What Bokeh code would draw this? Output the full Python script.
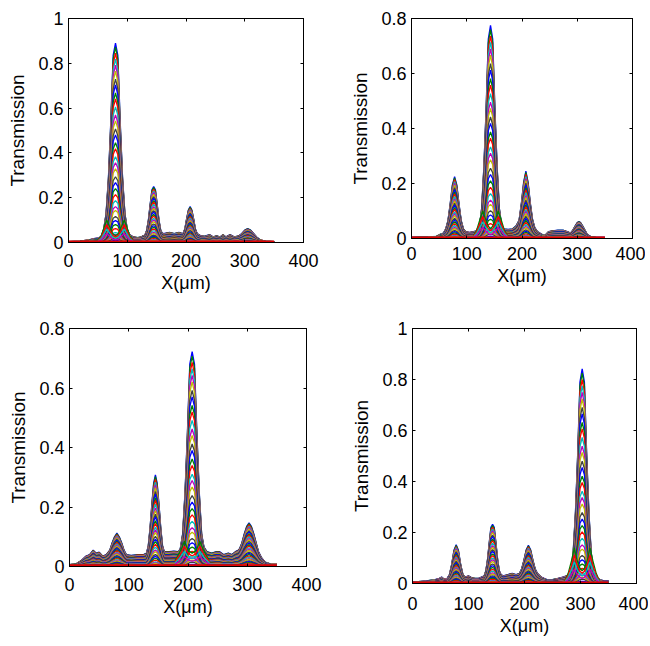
from bokeh.plotting import figure
from bokeh.models import LinearAxis, FixedTicker, Range1d, ColumnDataSource
from bokeh.layouts import column, row
from bokeh.embed import file_html
from bokeh.resources import INLINE

# ---------------- data ----------------
# upper envelope (largest curve) of each panel, x in um
tl_x = [0, 20, 35, 45, 52, 56, 60, 64, 68, 72, 76, 80, 84, 88, 92, 96, 100, 104, 110, 118, 124,
        127, 130, 133, 136, 139, 142, 145, 148, 151, 154, 157, 160, 165, 172, 180, 188, 194,
        195, 198, 201, 204, 207, 210, 213, 216, 219, 225, 232, 240, 246, 252, 258, 263, 268,
        275, 282, 290, 295, 300, 305, 310, 315, 320, 326, 335, 350]
tl_y = [0.004, 0.006, 0.012, 0.018, 0.02, 0.03, 0.06, 0.13, 0.29, 0.54, 0.835, 0.89, 0.835, 0.54,
        0.29, 0.13, 0.06, 0.035, 0.025, 0.022, 0.025,
        0.03, 0.033, 0.054, 0.10, 0.17, 0.235, 0.25, 0.235, 0.17, 0.10, 0.054, 0.04, 0.042,
        0.045, 0.04, 0.045, 0.04,
        0.04, 0.06, 0.105, 0.145, 0.16, 0.145, 0.105, 0.06, 0.04, 0.03, 0.028, 0.035, 0.025,
        0.03, 0.025, 0.035, 0.025, 0.035, 0.025, 0.03, 0.04, 0.055, 0.062, 0.055, 0.04, 0.025,
        0.012, 0.006, 0.004]

tr_x = [0, 30, 45, 52, 58, 62, 66, 70, 74, 78, 82, 86, 90, 94, 98, 105, 112, 118,
        119, 123, 127, 131, 135, 139, 143, 147, 151, 155, 159, 163, 167, 175, 183,
        189, 193, 195, 199, 203, 207, 211, 215, 219, 223, 228, 236, 242, 248, 255, 265,
        275, 282, 288, 292, 296, 300, 303, 306, 310, 314, 318, 325, 335, 350]
tr_y = [0.004, 0.006, 0.008, 0.015, 0.02, 0.035, 0.065, 0.125, 0.195, 0.225, 0.195, 0.125,
        0.065, 0.035, 0.025, 0.022, 0.025, 0.028,
        0.035, 0.045, 0.11, 0.26, 0.47, 0.725, 0.775, 0.725, 0.47, 0.26, 0.11, 0.05, 0.035,
        0.033, 0.035,
        0.045, 0.06, 0.07, 0.13, 0.205, 0.245, 0.205, 0.13, 0.07, 0.04, 0.025, 0.015, 0.012,
        0.025, 0.028, 0.03, 0.03, 0.025, 0.02, 0.03, 0.045, 0.058, 0.062, 0.058, 0.045, 0.03,
        0.015, 0.006, 0.004, 0.004]

bl_x = [0, 12, 20, 28, 34, 40, 45, 50, 56, 62, 64, 68, 72, 76, 80, 84, 88, 92, 96, 104, 115,
        125, 130, 133, 136, 139, 142, 145, 148, 151, 154, 157, 160, 168, 176, 184,
        187, 191, 195, 199, 203, 207, 211, 215, 219, 223, 227, 232, 240, 248, 253, 260, 268,
        274, 280, 285, 287, 291, 295, 299, 303, 307, 311, 315, 319, 324, 330, 340, 350]
bl_y = [0.006, 0.01, 0.02, 0.035, 0.04, 0.055, 0.045, 0.048, 0.035, 0.04, 0.045, 0.055, 0.08,
        0.1, 0.112, 0.1, 0.08, 0.055, 0.04, 0.037, 0.04,
        0.04, 0.045, 0.07, 0.13, 0.21, 0.28, 0.308, 0.28, 0.21, 0.13, 0.07, 0.05, 0.05, 0.052,
        0.05,
        0.06, 0.11, 0.25, 0.45, 0.68, 0.722, 0.68, 0.45, 0.25, 0.11, 0.065, 0.05, 0.045, 0.05,
        0.05, 0.04, 0.045, 0.04, 0.05, 0.055, 0.06, 0.08, 0.11, 0.135, 0.147, 0.135, 0.11,
        0.08, 0.05, 0.03, 0.015, 0.008, 0.008]

br_x = [0, 25, 40, 48, 52, 56, 62, 66, 70, 74, 78, 82, 86, 90, 94, 100, 106, 112, 118,
        128, 131, 134, 137, 140, 143, 146, 149, 152, 155, 158, 162, 170, 178, 185,
        191, 195, 199, 203, 207, 211, 215, 219, 223, 230, 240, 250, 260, 268, 275, 281,
        283, 287, 291, 295, 299, 303, 307, 311, 315, 319, 323, 328, 335, 342, 350]
br_y = [0.005, 0.01, 0.015, 0.02, 0.025, 0.018, 0.02, 0.035, 0.075, 0.13, 0.152, 0.13, 0.075,
        0.035, 0.025, 0.03, 0.022, 0.02, 0.02,
        0.03, 0.05, 0.095, 0.16, 0.22, 0.232, 0.22, 0.16, 0.095, 0.05, 0.035, 0.03, 0.035,
        0.04, 0.035,
        0.04, 0.058, 0.092, 0.132, 0.15, 0.132, 0.092, 0.058, 0.04, 0.025, 0.015, 0.015, 0.02,
        0.025, 0.03, 0.03,
        0.04, 0.125, 0.28, 0.51, 0.79, 0.842, 0.79, 0.51, 0.28, 0.125, 0.045, 0.025, 0.015,
        0.01, 0.01]

# split (two-lobed) low curves around each panel's main peak
tl_lobe_x = [50, 56, 61, 65, 70, 75, 80, 85, 90, 95, 99, 104, 110]
tl_lobe_y = [0.01, 0.03, 0.07, 0.10, 0.07, 0.04, 0.03, 0.04, 0.07, 0.10, 0.07, 0.03, 0.01]
tr_lobe_x = [112, 118, 124, 129, 134, 139, 143, 147, 152, 157, 162, 168, 174]
tr_lobe_y = [0.01, 0.03, 0.07, 0.10, 0.07, 0.045, 0.035, 0.045, 0.07, 0.10, 0.07, 0.03, 0.01]
bl_lobe_x = [178, 184, 189, 194, 199, 203, 207, 211, 215, 220, 225, 230, 236]
bl_lobe_y = [0.02, 0.04, 0.06, 0.085, 0.06, 0.05, 0.045, 0.05, 0.06, 0.085, 0.06, 0.04, 0.02]
br_lobe_x = [272, 278, 284, 289, 294, 299, 303, 307, 312, 317, 322, 328, 334]
br_lobe_y = [0.01, 0.04, 0.09, 0.14, 0.09, 0.06, 0.05, 0.06, 0.09, 0.14, 0.09, 0.04, 0.01]

# relative level of each curve of the family
levels = [1.0, 0.98, 0.95, 0.92, 0.89, 0.86, 0.82, 0.79, 0.75, 0.72, 0.68, 0.64, 0.61, 0.57,
          0.54, 0.50, 0.47, 0.43, 0.40, 0.37, 0.33, 0.30, 0.27, 0.24, 0.21, 0.18, 0.16, 0.13,
          0.11, 0.09, 0.07, 0.05, 0.04, 0.03, 0.02, 0.01]
lobe_levels = [1.0, 0.8, 0.6, 0.4]

baseline_x = [0, 350]
baseline_y = [0.003, 0.003]

x_ticks = [0, 100, 200, 300, 400]
x_tick_labels = ["0", "100", "200", "300", "400"]
y_ticks_1 = [0, 0.2, 0.4, 0.6, 0.8, 1]
y_tick_labels_1 = ["0", "0.2", "0.4", "0.6", "0.8", "1"]
y_ticks_08 = [0, 0.2, 0.4, 0.6, 0.8]
y_tick_labels_08 = ["0", "0.2", "0.4", "0.6", "0.8"]

COLORS = ["#0000ff", "#008000", "#ff0000", "#00bfbf", "#bf00bf", "#bfbf00", "#404040"]
FONT = "Liberation Sans"


def panel(ex, ey, lx, ly, ymax, yt, ytl, fw, fh, bl, br, bt, bb, xs_off, xl_off):
    p = figure(frame_width=fw, frame_height=fh, min_border_left=bl, min_border_right=br,
               min_border_top=bt, min_border_bottom=bb, output_backend="svg",
               toolbar_location=None, x_range=Range1d(0, 400), y_range=Range1d(0, ymax))
    p.xaxis.visible = False
    p.yaxis.visible = False
    p.grid.visible = False
    p.outline_line_color = "black"
    p.outline_line_width = 1
    p.background_fill_color = "white"

    xs, ys, cs = [], [], []
    k = 0
    for f in levels:
        xs.append(ex)
        ys.append([v * f for v in ey])
        cs.append(COLORS[k % len(COLORS)])
        k += 1
    for f in lobe_levels:
        xs.append(lx)
        ys.append([v * f for v in ly])
        cs.append(COLORS[k % len(COLORS)])
        k += 1
    src = ColumnDataSource(dict(xs=xs, ys=ys, c=cs))
    p.multi_line("xs", "ys", line_color="c", line_width=1.3, source=src)
    p.line(baseline_x, baseline_y, line_color="#e00000", line_width=2.6)

    def style(ax):
        ax.axis_line_color = "black"
        ax.axis_line_width = 1
        ax.major_tick_in = 3
        ax.major_tick_out = 0
        ax.minor_tick_line_color = None
        ax.major_tick_line_color = "black"
        ax.major_label_text_font = FONT
        ax.major_label_text_font_size = "18px"
        ax.major_label_text_color = "black"
        ax.axis_label_text_font = FONT
        ax.axis_label_text_font_style = "normal"
        ax.axis_label_text_color = "black"

    xa = LinearAxis(ticker=FixedTicker(ticks=x_ticks),
                    major_label_overrides={t: s for t, s in zip(x_ticks, x_tick_labels)},
                    axis_label="X(μm)")
    style(xa)
    xa.major_label_standoff = xs_off
    xa.axis_label_standoff = xl_off
    xa.axis_label_text_font_size = "18px"
    p.add_layout(xa, "below")

    ya = LinearAxis(ticker=FixedTicker(ticks=yt),
                    major_label_overrides={t: s for t, s in zip(yt, ytl)},
                    axis_label="Transmission")
    style(ya)
    ya.major_label_standoff = 5
    ya.axis_label_standoff = 7
    ya.axis_label_text_font_size = "19px"
    p.add_layout(ya, "left")

    ra = LinearAxis(ticker=FixedTicker(ticks=yt),
                    major_label_overrides={t: "" for t in yt})
    style(ra)
    ra.major_label_standoff = 0
    p.add_layout(ra, "right")

    ta = LinearAxis(ticker=FixedTicker(ticks=x_ticks),
                    major_label_overrides={t: "" for t in x_ticks})
    style(ta)
    ta.major_label_standoff = 0
    p.add_layout(ta, "above")
    return p


p1 = panel(tl_x, tl_y, tl_lobe_x, tl_lobe_y, 1.0, y_ticks_1, y_tick_labels_1,
           235, 224, 68, 20, 18, 60, 11, 3)
p2 = panel(tr_x, tr_y, tr_lobe_x, tr_lobe_y, 0.8, y_ticks_08, y_tick_labels_08,
           221, 220, 88, 13, 18, 64, 8, 3)
p3 = panel(bl_x, bl_y, bl_lobe_x, bl_lobe_y, 0.8, y_ticks_08, y_tick_labels_08,
           237, 238, 69, 20, 25, 73, 11, 3)
p4 = panel(br_x, br_y, br_lobe_x, br_lobe_y, 1.0, y_ticks_1, y_tick_labels_1,
           224, 255, 86, 12, 26, 58, 13, 3)

layout = column(row(p1, p2), row(p3, p4))
open("out.html", "w").write(file_html(layout, INLINE))
